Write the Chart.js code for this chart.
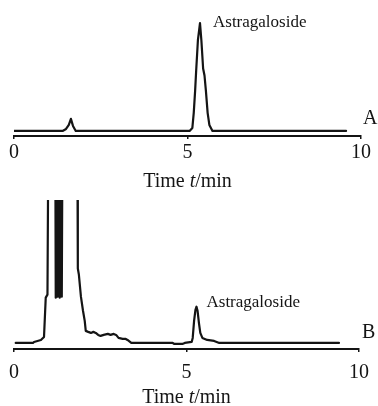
<!DOCTYPE html>
<html><head><meta charset="utf-8">
<script src="https://cdn.jsdelivr.net/npm/chart.js@4/dist/chart.umd.min.js"></script>
<style>
html,body{margin:0;padding:0;background:#fff;overflow:hidden;width:378px;height:406px;}
#wa{position:absolute;left:0;top:0;width:378px;height:200px;}
#wb{position:absolute;left:0;top:190px;width:378px;height:216px;}
</style></head><body>
<div id="wa"><canvas id="ca"></canvas></div>
<div id="wb"><canvas id="cb"></canvas></div>
<script>
// ---- data (retention time in min, detector signal in arbitrary units) ----
const timeA   = [0, 1.40, 1.50, 1.58, 1.64, 1.70, 1.78, 5.06, 5.14, 5.18, 5.22, 5.25, 5.30, 5.36, 5.40, 5.45, 5.49, 5.53, 5.58, 5.63, 5.72, 9.57];
const signalA = [0, 0,    2,    6,    12,   5,    0,    0,    3,    18,   40,   60,   90,   107,  90,   62,   55,   40,   18,   6,    0,    0];

const timeB   = [0.05, 0.55, 0.58, 0.78, 0.87, 0.92, 0.97, 0.99, 1.20, 1.21, 1.22, 1.235, 1.25, 1.265, 1.28, 1.295, 1.31, 1.325, 1.34, 1.355, 1.37, 1.385, 1.40, 1.84, 1.85, 1.88, 1.94, 2.00, 2.05, 2.08, 2.15, 2.23, 2.30, 2.37, 2.44, 2.51, 2.60, 2.72, 2.80, 2.89, 2.96, 3.03, 3.15, 3.24, 3.29, 3.40, 4.60, 4.65, 4.88, 4.95, 5.15, 5.18, 5.22, 5.26, 5.29, 5.32, 5.36, 5.40, 5.46, 5.60, 5.80, 5.95, 9.42];
const signalB = [0,    0,    1,    3,    6,    45,   48,   170,  170,  45,   170,  47,    170,  46,    170,  48,    170,  45,    170,  47,    170,  46,    170,  170,  74,   68,   46,   32,   22,   12,   11,   10,   11,   10,   8,    7,    8,    9,    8,    9,    8,    5,    4,    4,    3,    0,    0,    -1,   -1,   0,    1,    5,    22,   33,   36,   32,   20,   10,   5,    3,    2,    0,    0];

const xTicks = [0, 5, 10];
const peakLabel = 'Astragaloside';
const panelLabels = ['A', 'B'];
const titleParts = ['Time ', 't', '/min'];

const SERIF = "'Liberation Serif', 'Times New Roman', serif";
const INK = '#141414';

const marksPlugin = {
  id: 'marks',
  afterDraw(chart) {
    const o = chart.options.plugins.marks;
    const ctx = chart.ctx, xs = chart.scales.x, ys = chart.scales.y;
    ctx.save();
    ctx.fillStyle = INK;
    // peak label
    ctx.font = '17px ' + SERIF;
    ctx.textBaseline = 'alphabetic';
    ctx.textAlign = 'left';
    ctx.fillText(peakLabel, xs.getPixelForValue(o.peakT) + o.pdx, ys.getPixelForValue(o.peakV) + o.pdy);
    // panel letter
    ctx.font = '20px ' + SERIF;
    ctx.fillText(o.letter, chart.chartArea.right + o.ldx, chart.chartArea.bottom + o.ldy);
    // axis title with italic t
    const fN = '20px ' + SERIF, fI = 'italic 20px ' + SERIF;
    ctx.font = fN; const w0 = ctx.measureText(titleParts[0]).width, w2 = ctx.measureText(titleParts[2]).width;
    ctx.font = fI; const w1 = ctx.measureText(titleParts[1]).width;
    let x = (chart.chartArea.left + chart.chartArea.right) / 2 - (w0 + w1 + w2) / 2;
    const y = chart.chartArea.bottom + o.titleDy;
    ctx.textBaseline = 'middle';
    ctx.font = fN; ctx.fillText(titleParts[0], x, y); x += w0;
    ctx.font = fI; ctx.fillText(titleParts[1], x, y); x += w1;
    ctx.font = fN; ctx.fillText(titleParts[2], x, y);
    ctx.restore();
  }
};

function makeChart(id, times, sig, opt) {
  return new Chart(document.getElementById(id), {
    type: 'line',
    data: { datasets: [{
      data: times.map((t, i) => ({ x: t, y: sig[i] })),
      borderColor: INK, borderWidth: 2.2, pointRadius: 0, tension: 0,
      borderJoinStyle: 'round', borderCapStyle: 'round', fill: false
    }]},
    options: {
      responsive: true, maintainAspectRatio: false, animation: false, devicePixelRatio: 1,
      layout: { padding: opt.padding },
      events: [],
      plugins: { legend: { display: false }, tooltip: { enabled: false }, marks: opt.marks },
      scales: {
        x: {
          type: 'linear', min: 0, max: 10,
          afterBuildTicks: s => { s.ticks = xTicks.map(v => ({ value: v })); },
          ticks: { autoSkip: false, maxRotation: 0, padding: opt.tickPad, color: INK,
                   font: { family: SERIF, size: 20 } },
          grid: { display: true, drawOnChartArea: false, drawTicks: true, tickLength: 3, color: INK, lineWidth: 1.5 },
          border: { display: true, color: INK, width: 2 },
          title: { display: false }
        },
        y: { display: false, min: opt.ymin, max: opt.ymax }
      }
    },
    plugins: [marksPlugin]
  });
}

makeChart('ca', timeA, signalA, {
  padding: { left: 14, right: 17, top: 10, bottom: 33 }, ymin: -5, ymax: 120, tickPad: 2,
  marks: { peakT: 5.36, peakV: 107, pdx: 13, pdy: 4, letter: panelLabels[0], ldx: 2, ldy: -12, titleDy: 46 }
});
makeChart('cb', timeB, signalB, {
  padding: { left: 13, right: 19, top: 10, bottom: 12 }, ymin: -6, ymax: 142, tickPad: 9,
  marks: { peakT: 5.29, peakV: 36, pdx: 10, pdy: 0, letter: panelLabels[1], ldx: 3, ldy: -11, titleDy: 49 }
});
</script>
</body></html>
